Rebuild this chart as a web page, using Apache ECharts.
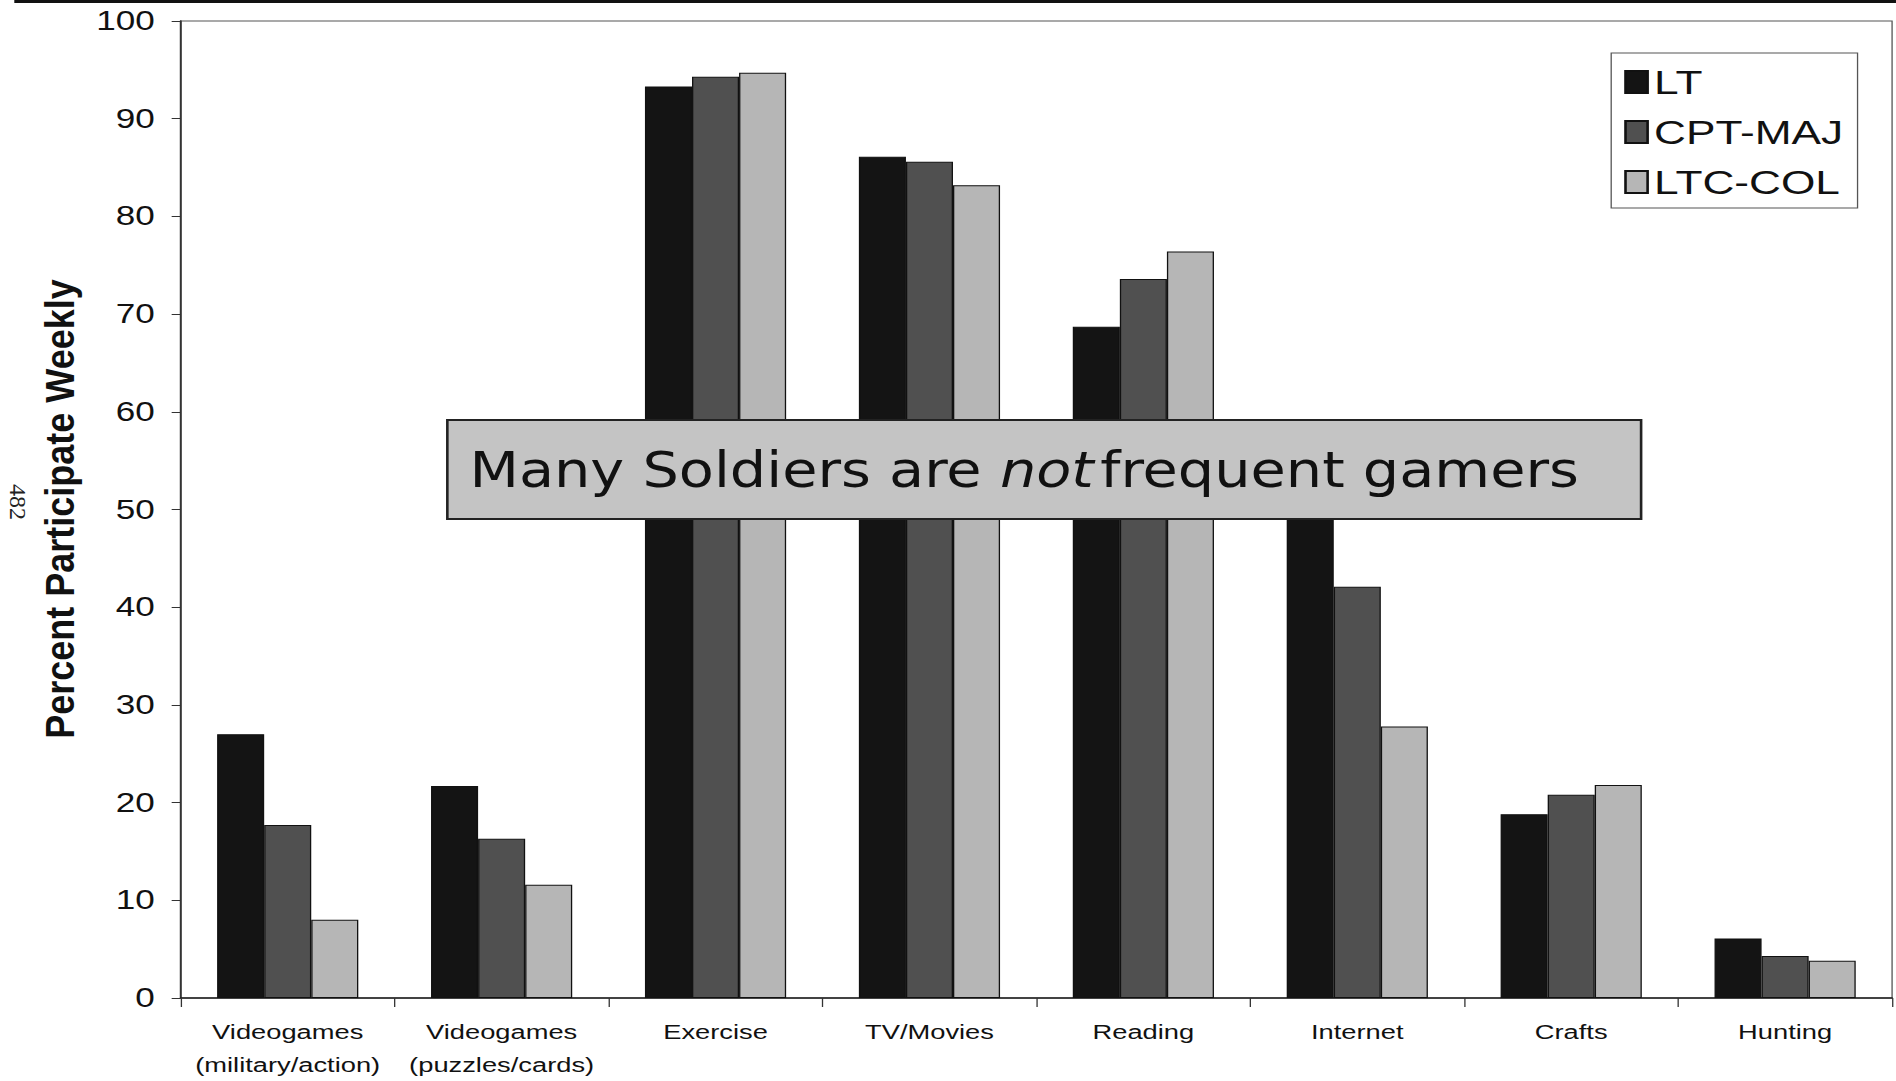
<!DOCTYPE html>
<html>
<head>
<meta charset="utf-8">
<title>Percent Participate Weekly</title>
<script src="https://cdn.jsdelivr.net/npm/echarts@6/dist/echarts.min.js"></script>
<style>
  html, body { margin: 0; padding: 0; background: #fff; overflow: hidden; }
  /* The slide artwork is horizontally stretched; draw at a narrower width and widen it. */
  #chart {
    width: 1458px; height: 1081px;
    transform: scaleX(1.3004);
    transform-origin: 0 0;
  }
</style>
</head>
<body>
<div id="chart"></div>
<script>
// Activity categories along the x axis
const categories = [
  'Videogames\n(military/action)',
  'Videogames\n(puzzles/cards)',
  'Exercise',
  'TV/Movies',
  'Reading',
  'Internet',
  'Crafts',
  'Hunting'
];

// Percent of each rank group participating weekly
const ltValues     = [27.0, 21.7, 93.3, 86.1, 68.7, 54.0, 18.8, 6.1];
const cptMajValues = [17.7, 16.3, 94.3, 85.6, 73.6, 42.1, 20.8, 4.3];
const ltcColValues = [ 8.0, 11.6, 94.7, 83.2, 76.4, 27.8, 21.8, 3.8];

const seriesNames = ['LT', 'CPT-MAJ', 'LTC-COL'];
const yTicks = { min: 0, max: 100, interval: 10 };
const yTitle = 'Percent Participate Weekly';

const STRETCH = 1.3004;
const chart = echarts.init(document.getElementById('chart'), null, { renderer: 'svg' });

const sans = '"Liberation Sans", Arial, Helvetica, sans-serif';
const bannerFont = '"DejaVu Sans Condensed", "DejaVu Sans", Tahoma, sans-serif';
const barStyle = (color) => ({ color: color, borderColor: '#111', borderWidth: 1 });

chart.setOption({
  animation: false,
  backgroundColor: '#ffffff',
  textStyle: { fontFamily: sans },
  grid: {
    left: 139, right: 3, top: 21, bottom: 83,
    show: true, borderColor: '#555', borderWidth: 1, backgroundColor: 'transparent'
  },
  legend: {
    orient: 'vertical',
    left: 1239, top: 53,
    backgroundColor: '#fff',
    borderColor: '#555', borderWidth: 1,
    padding: [12, 11, 9, 10],
    itemGap: 16,
    itemWidth: 17, itemHeight: 22,
    icon: 'rect',
    textStyle: { fontSize: 34, color: '#111', fontFamily: sans },
    data: seriesNames
  },
  xAxis: {
    type: 'category',
    data: categories,
    axisLine: { lineStyle: { color: '#222', width: 1.5 } },
    axisTick: { show: true, length: 9, alignWithLabel: false, lineStyle: { color: '#333' } },
    axisLabel: { fontSize: 21, lineHeight: 33, color: '#111', margin: 17, interval: 0 },
    splitLine: { show: false }
  },
  yAxis: {
    type: 'value',
    min: yTicks.min, max: yTicks.max, interval: yTicks.interval,
    axisLine: { show: true, lineStyle: { color: '#333', width: 1.5 } },
    axisTick: { show: true, inside: false, length: 7, lineStyle: { color: '#333' } },
    axisLabel: { fontSize: 27, color: '#111', margin: 20 },
    splitLine: { show: false }
  },
  series: [
    {
      name: seriesNames[0], type: 'bar', data: ltValues,
      barWidth: '22%', barGap: '0%', barCategoryGap: '34%',
      itemStyle: barStyle('#141414')
    },
    {
      name: seriesNames[1], type: 'bar', data: cptMajValues,
      barWidth: '22%', barGap: '0%',
      itemStyle: barStyle('#505050')
    },
    {
      name: seriesNames[2], type: 'bar', data: ltcColValues,
      barWidth: '22%', barGap: '0%',
      itemStyle: barStyle('#b6b6b6')
    }
  ],
  graphic: {
    elements: [
      // page rule across the top
      {
        type: 'line', z: 100,
        shape: { x1: 11, y1: 1.5, x2: 1458, y2: 1.5 },
        style: { stroke: '#111', lineWidth: 3 }
      },
      // y-axis title, rotated to read bottom to top; its local y is squeezed a little
      // so the page-wide horizontal stretch does not fatten the glyphs too much
      {
        type: 'text', z: 100,
        x: 46.5, y: 509, rotation: Math.PI / 2, scaleY: 0.85,
        style: {
          text: yTitle, fill: '#111',
          font: 'bold 36px ' + sans,
          align: 'center', verticalAlign: 'middle'
        }
      },
      // page number in the margin
      {
        type: 'text', z: 100,
        x: 14, y: 502, rotation: -Math.PI / 2, scaleY: 1 / STRETCH,
        style: {
          text: '482', fill: '#222',
          font: '24px "Liberation Serif", "Times New Roman", serif',
          align: 'center', verticalAlign: 'middle'
        }
      },
      // callout banner laid over the bars
      {
        type: 'rect', z: 100,
        shape: { x: 344, y: 420, width: 918, height: 99 },
        style: { fill: '#c4c4c4', stroke: '#222', lineWidth: 2 }
      },
      {
        type: 'text', z: 101,
        x: 361, y: 470,
        style: {
          text: '{n|Many Soldiers are }{i|not}{n|frequent gamers}',
          align: 'left', verticalAlign: 'middle',
          rich: {
            n: { fontSize: 49, fill: '#111', fontFamily: bannerFont },
            i: { fontSize: 49, fill: '#111', fontStyle: 'italic', fontFamily: bannerFont, padding: [0, 5, 0, 0] }
          }
        }
      }
    ]
  }
});
</script>
</body>
</html>
